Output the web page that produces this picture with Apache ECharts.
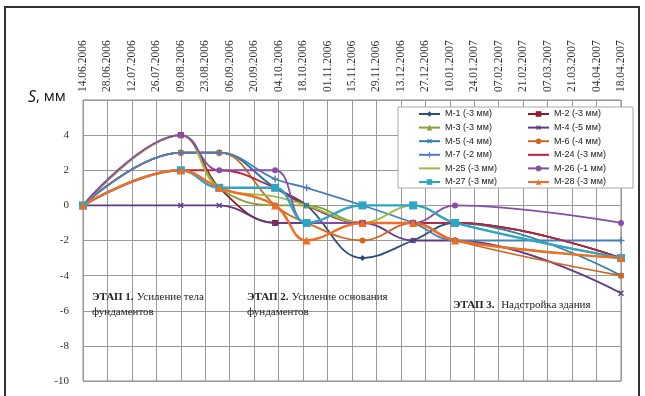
<!DOCTYPE html>
<html>
<head>
<meta charset="utf-8">
<script src="https://cdn.jsdelivr.net/npm/echarts@6/dist/echarts.min.js"></script>
<style>
  html, body { margin: 0; padding: 0; background: #ffffff; }
  #chart { width: 645px; height: 396px; }
</style>
</head>
<body>
<div id="chart"></div>
<script>
// Tick labels along the top axis (every 14 days)
const dateLabels = [
  '14.06.2006', '28.06.2006', '12.07.2006', '26.07.2006', '09.08.2006', '23.08.2006',
  '06.09.2006', '20.09.2006', '04.10.2006', '18.10.2006', '01.11.2006', '15.11.2006',
  '29.11.2006', '13.12.2006', '27.12.2006', '10.01.2007', '24.01.2007', '07.02.2007',
  '21.02.2007', '07.03.2007', '21.03.2007', '04.04.2007', '18.04.2007'
];
// Measurement dates, days after 14.06.2006
const measureDays = [0, 56, 78, 110, 128, 160, 189, 213, 308];

// Settlement S, mm, per benchmark at each measurement date
const m1  = [0, 3, 3, 1, 0, -3, -2, -1, -3];
const m2  = [0, 4, 1, -1, -1, -1, -1, -1, -3];
const m3  = [0, 4, 1, 0, 0, -1, -1, -2, -3];
const m4  = [0, 0, 0, -1, -1, -1, -2, -2, -5];
const m5  = [0, 3, 3, 1, 0, -1, -1, -1, -4];
const m6  = [0, 3, 3, 0, -1, -2, -1, -2, -4];
const m7  = [0, 3, 3, 1.5, 1, 0, -1, -2, -2];
const m24 = [0, 2, 2, 1, 0, -1, -1, -1, -3];
const m25 = [0, 4, 1, 0.5, 0, -1, 0, -1, -3];
const m26 = [0, 4, 2, 2, -1, -1, -1, 0, -1];
const m27 = [0, 2, 1, 1, -1, 0, 0, -1, -3];
const m28 = [0, 2, 1, 0, -2, -1, -1, -2, -3];

const seriesNames = [
  'М-1 (-3 мм)', 'М-2 (-3 мм)', 'М-3 (-3 мм)', 'М-4 (-5 мм)', 'М-5 (-4 мм)', 'М-6 (-4 мм)',
  'М-7 (-2 мм)', 'М-24 (-3 мм)', 'М-25 (-3 мм)', 'М-26 (-1 мм)', 'М-27 (-3 мм)', 'М-28 (-3 мм)'
];
const seriesValues = [m1, m2, m3, m4, m5, m6, m7, m24, m25, m26, m27, m28];

const plusPath = 'path://M4,0H6V4H10V6H6V10H4V6H0V4H4Z';
const styles = [
  { color: '#2b4c7e', symbol: 'diamond', size: 6 },
  { color: '#8e1b2c', symbol: 'rect', size: 6 },
  { color: '#8a9e3b', symbol: 'triangle', size: 6 },
  { color: '#5e3c84', symbol: plusPath, size: 7, rotate: 45 },
  { color: '#2c7fa8', symbol: plusPath, size: 7, rotate: 45 },
  { color: '#d0661e', symbol: 'circle', size: 6 },
  { color: '#4a7ebb', symbol: plusPath, size: 7 },
  { color: '#b8253a', symbol: 'none', size: 0 },
  { color: '#9dbb44', symbol: 'none', size: 0 },
  { color: '#8b4ba8', symbol: 'circle', size: 6 },
  { color: '#2ea5c4', symbol: 'rect', size: 8, width: 2.4 },
  { color: '#f36c24', symbol: 'triangle', size: 8, width: 2.4 }
];

const series = seriesValues.map((vals, i) => ({
  name: seriesNames[i],
  type: 'line',
  smooth: 0.4,
  data: measureDays.map((d, k) => [d, vals[k]]),
  symbol: styles[i].symbol,
  symbolSize: styles[i].size,
  symbolRotate: styles[i].rotate || 0,
  showSymbol: styles[i].symbol !== 'none',
  itemStyle: { color: styles[i].color },
  lineStyle: { color: styles[i].color, width: styles[i].width || 1.8 },
  emphasis: { disabled: true },
  animation: false
}));

// legend entries: plain line sample for series drawn without markers
const legendItem = i => (styles[i].symbol === 'none'
  ? { name: seriesNames[i], itemStyle: { opacity: 0 }, lineStyle: { opacity: 1 } }
  : { name: seriesNames[i] });

const legendText = { fontFamily: 'Liberation Sans, Arial, sans-serif', fontSize: 9, color: '#222', lineHeight: 10 };
const legendBase = {
  orient: 'vertical', top: 109, itemWidth: 21, itemHeight: 7, itemGap: 3.6,
  padding: 0, textStyle: legendText, selectedMode: false, z: 6
};

const serif = 'Liberation Serif, Times New Roman, serif';

const chart = echarts.init(document.getElementById('chart'), null, { renderer: 'canvas' });
chart.setOption({
  backgroundColor: '#ffffff',
  animation: false,
  grid: { left: 83, top: 100, right: 24, bottom: 15, show: true, borderColor: '#8a8a8a', borderWidth: 1, backgroundColor: 'transparent' },
  xAxis: {
    type: 'value', position: 'top', min: 0, max: 308, interval: 14,
    axisLine: { show: false }, axisTick: { show: false },
    splitLine: { show: true, lineStyle: { color: '#9a9a9a', width: 1 } },
    axisLabel: {
      rotate: 90, margin: 8, fontFamily: serif, fontSize: 11.5, color: '#333',
      formatter: v => dateLabels[Math.round(v / 14)] || ''
    }
  },
  yAxis: {
    type: 'value', min: -10, max: 6, interval: 2,
    axisLine: { show: false }, axisTick: { show: false },
    splitLine: { show: true, lineStyle: { color: '#9a9a9a', width: 1 } },
    axisLabel: {
      margin: 14, fontFamily: serif, fontSize: 11, color: '#333',
      formatter: v => (v === 6 ? '' : String(v))
    }
  },
  legend: [
    Object.assign({}, legendBase, { left: 418, data: [0, 2, 4, 6, 8, 10].map(legendItem) }),
    Object.assign({}, legendBase, { left: 527, data: [1, 3, 5, 7, 9, 11].map(legendItem) })
  ],
  graphic: [
    // outer frame
    { type: 'rect', z: 1, shape: { x: 5, y: 7, width: 634, height: 400 }, style: { fill: 'none', stroke: '#333', lineWidth: 2 } },
    // legend box
    { type: 'rect', z: 3, shape: { x: 398, y: 107, width: 235, height: 81 }, style: { fill: '#ffffff', stroke: '#a8a8a8', lineWidth: 1 } },
    // axis title
    {
      type: 'text', z: 5, left: 28, top: 89,
      style: {
        text: '{i|S}{n|, мм}',
        rich: {
          i: { fontFamily: 'Open Sans, sans-serif', fontStyle: 'italic', fontSize: 16, fill: '#111' },
          n: { fontFamily: 'Open Sans, sans-serif', fontSize: 15, fill: '#111' }
        }
      }
    },
    // construction stages
    {
      type: 'text', z: 5, left: 92, top: 291,
      style: {
        text: '{b|ЭТАП 1.} {n|Усиление тела}\n{n|фундаментов}',
        rich: {
          b: { fontFamily: serif, fontWeight: 'bold', fontSize: 11, fill: '#222', lineHeight: 15 },
          n: { fontFamily: serif, fontSize: 11, fill: '#222', lineHeight: 15 }
        }
      }
    },
    {
      type: 'text', z: 5, left: 247, top: 291,
      style: {
        text: '{b|ЭТАП 2.} {n|Усиление основания}\n{n|фундаментов}',
        rich: {
          b: { fontFamily: serif, fontWeight: 'bold', fontSize: 11, fill: '#222', lineHeight: 15 },
          n: { fontFamily: serif, fontSize: 11, fill: '#222', lineHeight: 15 }
        }
      }
    },
    {
      type: 'text', z: 5, left: 453, top: 299,
      style: {
        text: '{b|ЭТАП 3.}  {n|Надстройка здания}',
        rich: {
          b: { fontFamily: serif, fontWeight: 'bold', fontSize: 11, fill: '#222', lineHeight: 15 },
          n: { fontFamily: serif, fontSize: 11, fill: '#222', lineHeight: 15 }
        }
      }
    }
  ],
  series: series
});
</script>
</body>
</html>
